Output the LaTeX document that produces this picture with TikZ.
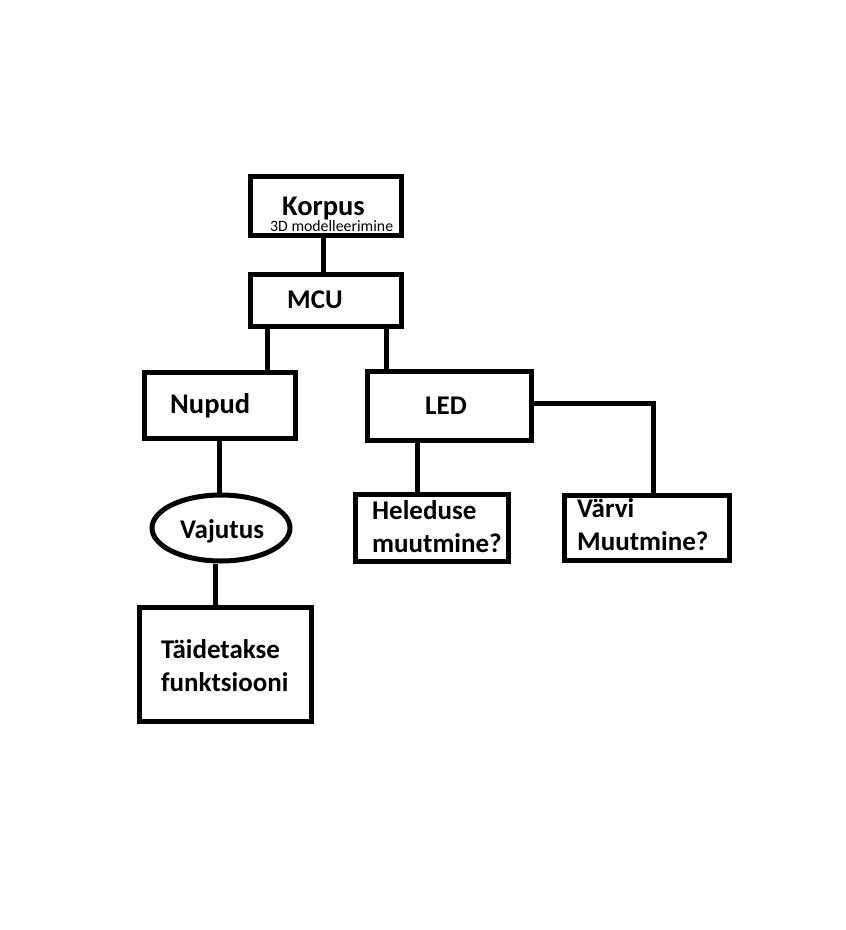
\documentclass[tikz,border=0pt]{standalone}
\usepackage{fontspec}
\setmainfont{Carlito}
\usetikzlibrary{shapes.geometric}

\tikzset{
  box/.style={draw, rectangle, line width=5pt, inner sep=0pt},
  oval/.style={draw, ellipse, line width=5pt, inner sep=0pt},
  txt/.style={font=\bfseries\fontsize{27}{33}\selectfont, inner sep=0pt, anchor=base west, align=left},
  small/.style={font=\fontsize{15.8}{18}\selectfont, inner sep=0pt, anchor=base west},
  wire/.style={line width=5pt}
}

\begin{document}
\begin{tikzpicture}[x=1pt,y=-1pt]
  \useasboundingbox (0,0) rectangle (846,930);

  \node[box, minimum width=151, minimum height=59] (korpus) at (325.5,205.5) {};
  \node[box, minimum width=151, minimum height=52] (mcu) at (325.5,300) {};
  \node[box, minimum width=151, minimum height=66] (nupud) at (219.5,405) {};
  \node[box, minimum width=164, minimum height=69] (led) at (449,405.5) {};
  \node[box, minimum width=153, minimum height=67] (heledus) at (431.5,527.5) {};
  \node[box, minimum width=165, minimum height=65] (varv) at (646.5,527.5) {};
  \node[oval, minimum width=138, minimum height=66] (vajutus) at (221,528) {};
  \node[box, minimum width=172, minimum height=114] (funktsioon) at (225,664) {};

  % multi-line texts: y is the last baseline
  \node[txt, font=\bfseries\fontsize{28.5}{33}\selectfont] (korpus-t) at (282,215.5) {Korpus};
  \node[small] (korpus-s) at (270,231.5) {3D modelleerimine};
  \node[txt] (mcu-t) at (287,308) {MCU};
  \node[txt, font=\bfseries\fontsize{28.5}{33}\selectfont] (nupud-t) at (170,413) {Nupud};
  \node[txt] (led-t) at (425,414) {LED};
  \node[txt] (vajutus-t) at (180,538) {Vajutus};
  \node[txt] (heledus-t) at (372,552) {Heleduse\\muutmine?};
  \node[txt] (varv-t) at (577,550) {Värvi\\Muutmine?};
  \node[txt] (funktsioon-t) at (161,691) {Täidetakse\\funktsiooni};

  \draw[wire] ([xshift=-2.5]korpus.south) -- ([xshift=-2.5]mcu.north);
  \draw[wire] ([xshift=-58.5]mcu.south) -- ([xshift=47.5]nupud.north);
  \draw[wire] ([xshift=60.5]mcu.south) -- ([xshift=-63]led.north);
  \draw[wire] (nupud.south) -- (nupud.south |- vajutus.north);
  \draw[wire] ([xshift=-6]vajutus.south) -- ([xshift=-6]vajutus.south |- funktsioon.north);
  \draw[wire] ([xshift=-32]led.south) -- ([xshift=-32]led.south |- heledus.north);
  \draw[wire] ([yshift=2.5]led.east) -| ([xshift=6.5]varv.north);

\end{tikzpicture}
\end{document}
